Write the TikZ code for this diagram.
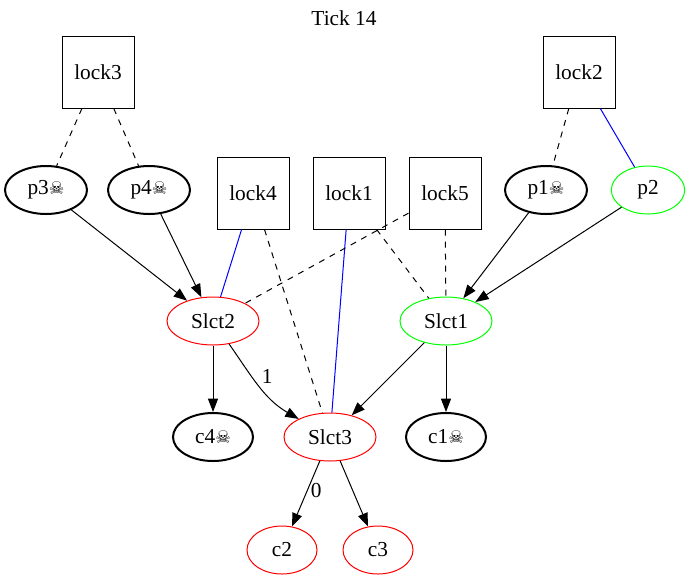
\documentclass[tikz,border=0pt]{standalone}
\usepackage{fontspec}
\setmainfont{Liberation Serif}
\newfontfamily\skullfont{DejaVu Sans}
\usetikzlibrary{shapes.geometric,arrows.meta}
\newcommand{\dead}{{\skullfont\fontsize{13}{13}\selectfont ☠}}
\definecolor{gvgreen}{RGB}{0,255,0}
\begin{document}
\begin{tikzpicture}[x=0.75pt,y=-0.75pt,
  font=\fontsize{16}{18}\selectfont,
  every path/.style={line width=0.75pt},
  lockbox/.style={draw,rectangle,minimum width=54pt,minimum height=54pt,inner sep=0pt,line width=0.75pt},
  oval/.style={draw,ellipse,minimum height=36pt,inner sep=0pt,line width=0.75pt},
  dead/.style={oval,line width=1.5pt,minimum width=61.5pt},
  sel/.style={oval,minimum width=69pt},
  leaf/.style={oval,draw=red,minimum width=52.5pt},
  arr/.style={-{Triangle[length=10pt,width=7.5pt]}},
  lk/.style={dashed,dash pattern=on 4.5pt off 4.5pt},
  hold/.style={blue}]
\useasboundingbox (0,0) rectangle (689,583);
\node (title) at (344,18) {Tick 14};
% locks
\node[lockbox] (lock3) at (98,72) {lock3};
\node[lockbox] (lock2) at (579,72) {lock2};
\node[lockbox] (lock4) at (253,193) {lock4};
\node[lockbox] (lock1) at (349,193) {lock1};
\node[lockbox] (lock5) at (445,193) {lock5};
% processes
\node[dead] (p3) at (46,190) {p3\dead};
\node[dead] (p4) at (149,190) {p4\dead};
\node[dead] (p1) at (546,190) {p1\dead};
\node[oval,draw=gvgreen,minimum width=55pt] (p2) at (648,190) {p2};
% selects
\node[sel,draw=red] (s2) at (213,321) {Slct2};
\node[sel,draw=gvgreen] (s1) at (446,321) {Slct1};
\node[sel,draw=red] (s3) at (330,437) {Slct3};
% channels
\node[dead,minimum width=60pt] (c4) at (213,437) {c4\dead};
\node[dead,minimum width=60pt] (c1) at (446,437) {c1\dead};
\node[leaf] (c2) at (282,550) {c2};
\node[leaf] (c3) at (378,550) {c3};
% lock edges
\draw[lk] (lock3) -- (p3);
\draw[lk] (lock3) -- (p4);
\draw[lk] (lock2) -- (p1);
\draw[hold] (lock2) -- (p2);
\draw[hold] (lock4) -- (s2);
\draw[lk] (lock4) -- (s3);
\draw[hold] (lock1) -- (s3);
\draw[lk] (lock5) -- (s2);
\draw[lk] (lock1) -- (s1);
\draw[lk] (lock5) -- (s1);
% flow edges
\draw[arr] (p3) -- (s2);
\draw[arr] (p4) -- (s2);
\draw[arr] (p1) -- (s1);
\draw[arr] (p2) -- (s1);
\draw[arr] (s1) -- (s3);
\draw[arr] (s1) -- (c1);
\draw[arr] (s2) -- (c4);
\draw[arr] (s2) to[out=-55,in=150] node[pos=0.5,above right=-2pt] {1} (s3);
\draw[arr] (s3) -- node[right=-1pt,pos=0.45] {0} (c2);
\draw[arr] (s3) -- (c3);
\end{tikzpicture}
\end{document}
